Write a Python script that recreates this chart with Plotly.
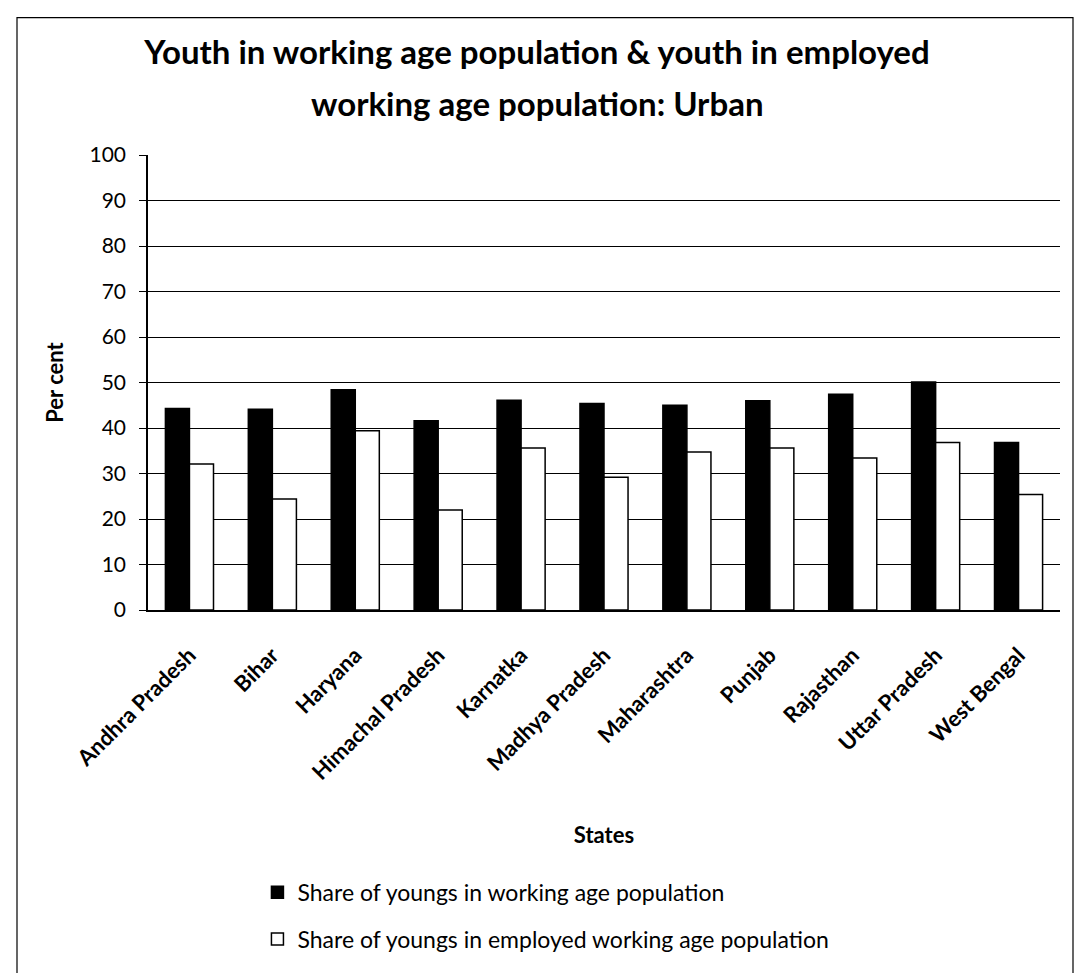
import plotly.graph_objects as go

states = ["Andhra Pradesh", "Bihar", "Haryana", "Himachal Pradesh", "Karnatka",
          "Madhya Pradesh", "Maharashtra", "Punjab", "Rajasthan", "Uttar Pradesh", "West Bengal"]
share_working = [44.3, 44.1, 48.4, 41.6, 46.1, 45.4, 45.0, 46.0, 47.4, 50.1, 36.8]
share_employed = [32.1, 24.4, 39.4, 22.0, 35.6, 29.2, 34.7, 35.6, 33.4, 36.8, 25.4]
y_ticks = list(range(0, 101, 10))

FONT = "Lato, Open Sans, sans-serif"

fig = go.Figure()
fig.add_trace(go.Bar(
    x=states, y=share_working, name="Share of youngs in working age population",
    marker=dict(color="black", line=dict(color="black", width=1.5)),
    legendgroup="a",
))
fig.add_trace(go.Bar(
    x=states, y=share_employed, name="Share of youngs in employed working age population",
    marker=dict(color="white", line=dict(color="black", width=1.5)),
    legendgroup="b",
))

fig.update_layout(
    width=1074, height=973,
    margin=dict(l=148, r=14, t=155, b=361),
    paper_bgcolor="white", plot_bgcolor="white",
    font=dict(family=FONT, color="black", size=21),
    barmode="group", bargap=0.42, bargroupgap=0,
    title=dict(
        text="Youth in working age population & youth in employed",
        x=0.5, xanchor="center", xref="container",
        y=1 - 52 / 973, yanchor="middle", yref="container",
        font=dict(family=FONT, size=33, color="black", weight="bold"),
    ),
    annotations=[dict(
        text="working age population: Urban", xref="paper", yref="paper",
        x=(537 - 148) / 912, xanchor="center", y=(612 - 103) / 457, yanchor="middle",
        showarrow=False,
        font=dict(family=FONT, size=33, color="black", weight="bold"),
    )],
    xaxis=dict(
        tickangle=-45, showline=True, linecolor="black", linewidth=1.5,
        ticks="", tickfont=dict(size=22, weight="bold"), ticklabelstandoff=22,
        title=dict(text="<b>States</b>", font=dict(size=22), standoff=44),
    ),
    yaxis=dict(
        range=[0, 100], tickvals=y_ticks, showgrid=True, gridcolor="black", gridwidth=1.2,
        showline=True, linecolor="black", linewidth=1.5, ticks="outside", ticklen=7,
        tickcolor="black", zeroline=False, tickfont=dict(size=21), ticklabelstandoff=9,
        title=dict(text="<b>Per cent</b>", font=dict(size=22), standoff=20),
    ),
    legend=dict(
        x=0.12, xanchor="left", y=-0.573, yanchor="top",
        orientation="v", tracegroupgap=14, font=dict(size=23),
        traceorder="grouped", itemwidth=30,
    ),
    shapes=[dict(
        type="rect", xref="paper", yref="paper",
        x0=(17 - 148) / 912, x1=(1073 - 148) / 912,
        y0=(612 - 990) / 457, y1=(612 - 17) / 457,
        line=dict(color="black", width=1.2), fillcolor="rgba(0,0,0,0)", layer="below",
    )],
)

fig.write_html("out.html")
